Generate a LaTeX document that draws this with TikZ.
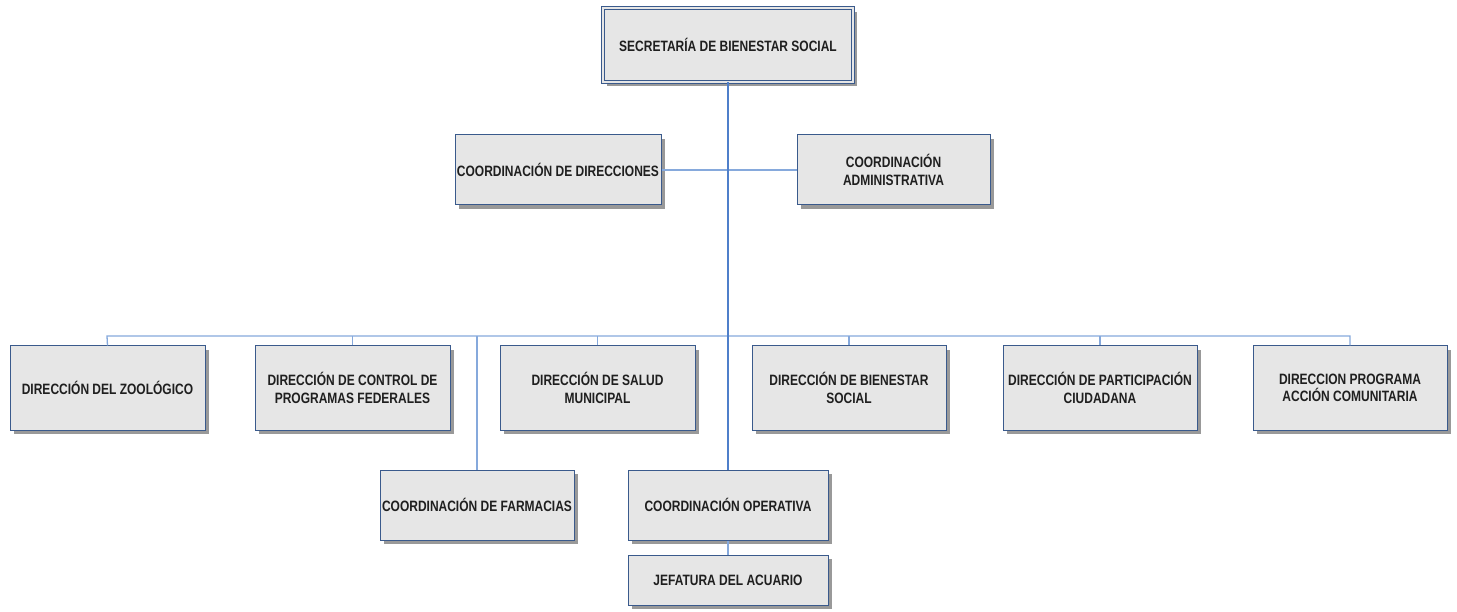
\documentclass[tikz,border=0pt]{standalone}
\usepackage{fontspec}
\setmainfont{Liberation Sans}[FakeStretch=0.8]
\usetikzlibrary{shadows}
\definecolor{boxfill}{HTML}{E6E6E6}
\definecolor{boxdraw}{HTML}{3A5A8C}
\definecolor{linec}{HTML}{86A9DC}
\definecolor{mainline}{HTML}{4F7FCA}
\begin{document}
\begin{tikzpicture}[x=1pt,y=-1pt,
  box/.style={rectangle, draw=boxdraw, line width=1pt, fill=boxfill, align=center,
    inner sep=1pt, font=\bfseries\fontsize{15}{17.5}\selectfont, text=black!88,
    drop shadow={shadow xshift=4pt, shadow yshift=-4pt, fill=black!50, opacity=0.8}},
  conn/.style={draw=linec, line width=1.3pt},
  mainconn/.style={draw=mainline, line width=1.4pt}]
\useasboundingbox (0,0) rectangle (1457,612);
\fill[white] (0,0) rectangle (1457,612);
\coordinate (busL) at (107,336);
\node[box, double=boxfill, double distance=1.6pt, line width=0.9pt, minimum width=250pt, minimum height=74pt] (sec) at (728,45) {SECRETARÍA DE BIENESTAR SOCIAL};
\node[box, minimum width=206pt, minimum height=70pt] (cdir) at (558,170) {COORDINACIÓN DE DIRECCIONES};
\node[box, minimum width=193pt, minimum height=70pt] (cadm) at (893.5,170) {COORDINACIÓN\\ADMINISTRATIVA};
\node[box, minimum width=195pt, minimum height=84pt] (zoo) at (107.5,388) {DIRECCIÓN DEL ZOOLÓGICO};
\node[box, minimum width=195pt, minimum height=84pt] (ctrl) at (352.5,388) {DIRECCIÓN DE CONTROL DE\\PROGRAMAS FEDERALES};
\node[box, minimum width=195pt, minimum height=84pt] (salud) at (597.5,388) {DIRECCIÓN DE SALUD\\MUNICIPAL};
\node[box, minimum width=194pt, minimum height=84pt] (bien) at (849,388) {DIRECCIÓN DE BIENESTAR\\SOCIAL};
\node[box, minimum width=194pt, minimum height=84pt] (part) at (1100,388) {DIRECCIÓN DE PARTICIPACIÓN\\CIUDADANA};
\node[box, minimum width=194pt, minimum height=84pt] (acc) at (1350,388) {DIRECCION PROGRAMA\\ACCIÓN COMUNITARIA};
\node[box, minimum width=194pt, minimum height=70pt] (farm) at (477,505) {COORDINACIÓN DE FARMACIAS};
\node[box, minimum width=200pt, minimum height=70pt] (oper) at (728,505) {COORDINACIÓN OPERATIVA};
\node[box, minimum width=200pt, minimum height=50pt] (jef) at (728,580) {JEFATURA DEL ACUARIO};
\draw[conn] (cdir.east) -- (cadm.west);
\draw[conn] (zoo.north) -- (busL) -| (acc.north);
\draw[conn] (ctrl.north) -- (ctrl.north |- busL);
\draw[conn] (salud.north) -- (salud.north |- busL);
\draw[conn] (bien.north) -- (bien.north |- busL);
\draw[conn] (part.north) -- (part.north |- busL);
\draw[conn] (farm.north) -- (farm.north |- busL);
\draw[conn] (oper.south) -- (jef.north);
\draw[mainconn] (sec.south) -- (oper.north);
\end{tikzpicture}
\end{document}
